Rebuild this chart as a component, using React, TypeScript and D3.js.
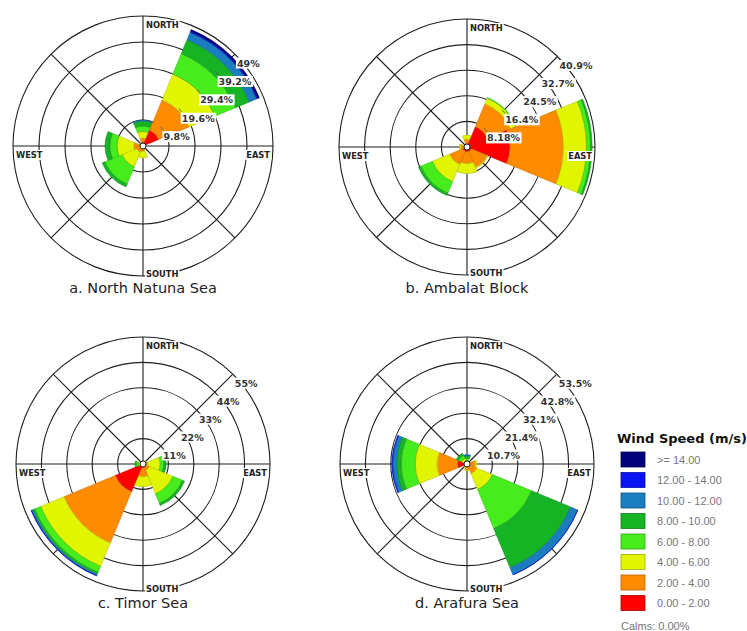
import * as d3 from "d3";
import React, { useRef, useEffect } from "react";

// speed classes, innermost band first
const speedClasses = ["0.00 - 2.00", "2.00 - 4.00", "4.00 - 6.00", "6.00 - 8.00", "8.00 - 10.00", "10.00 - 12.00", "12.00 - 14.00", ">= 14.00"];
const speedColors = ["#ff0000", "#ff8c00", "#e2f500", "#46ec1c", "#16b424", "#1a7dc0", "#0a14f0", "#00007a"];

const directions = ["N", "NE", "E", "SE", "S", "SW", "W", "NW"];

// cumulative frequency (%) per direction, one value per speed class
const natunaSea = [
  [1.5, 3, 5.5, 7.5, 9.4, 9.8, 9.8, 9.8],
  [6.4, 18.8, 29.4, 37.7, 43.4, 46.4, 46.8, 47.5],
  [0.3, 0.6, 0.8, 0.8, 0.8, 0.8, 0.8, 0.8],
  [0.3, 0.5, 0.6, 0.6, 0.6, 0.6, 0.6, 0.6],
  [0.5, 2, 4.5, 4.5, 4.5, 4.5, 4.5, 4.5],
  [0.8, 2.5, 8.5, 15.6, 16.7, 16.7, 16.7, 16.7],
  [0.8, 3.5, 9.8, 12.5, 14.3, 14.3, 14.3, 14.3],
  [0.3, 0.8, 1.2, 1.4, 1.4, 1.4, 1.4, 1.4],
];
const ambalatBlock = [
  [1, 2.5, 3.8, 3.8, 3.8, 3.8, 3.8, 3.8],
  [7, 15, 16.9, 17.1, 17.1, 17.1, 17.1, 17.1],
  [13.7, 30.8, 38.2, 39.5, 40, 40, 40, 40],
  [1.5, 7, 7.3, 7.3, 7.3, 7.3, 7.3, 7.3],
  [1.5, 5.3, 8.5, 8.5, 8.5, 8.5, 8.5, 8.5],
  [1.5, 6, 12, 16, 16.8, 16.8, 16.8, 16.8],
  [0.5, 2, 2.5, 2.5, 2.5, 2.5, 2.5, 2.5],
  [0.3, 0.6, 0.6, 0.6, 0.6, 0.6, 0.6, 0.6],
];
const timorSea = [
  [0.3, 0.6, 0.8, 0.8, 0.8, 0.8, 0.8, 0.8],
  [0.5, 1, 1.5, 1.5, 1.5, 1.5, 1.5, 1.5],
  [0.5, 2, 7.5, 9, 10, 10, 10, 10],
  [0.8, 3, 14, 18.5, 19.5, 19.5, 19.5, 19.5],
  [1.5, 5.5, 9.8, 9.8, 9.8, 9.8, 9.8, 9.8],
  [13, 37, 48, 50.8, 51.8, 52.3, 52.5, 52.5],
  [0.5, 1, 2, 3, 3.5, 3.5, 3.5, 3.5],
  [0.3, 0.5, 0.6, 0.6, 0.6, 0.6, 0.6, 0.6],
];
const arafuraSea = [
  [0.3, 0.8, 1.5, 2.5, 3.5, 4, 4, 4],
  [0.3, 0.5, 0.6, 0.6, 0.6, 0.6, 0.6, 0.6],
  [1, 3.5, 4.2, 4.2, 4.2, 4.2, 4.2, 4.2],
  [1, 4.5, 11.6, 29.5, 47.3, 50.5, 50.6, 50.6],
  [1, 2.5, 2.8, 2.8, 2.8, 2.8, 2.8, 2.8],
  [0.5, 1.5, 1.8, 1.8, 1.8, 1.8, 1.8, 1.8],
  [4, 12.6, 21.8, 27.7, 29.6, 31.3, 31.6, 31.6],
  [0.5, 1.5, 2.5, 4, 4.9, 4.9, 4.9, 4.9],
];

const natunaRings = ["9.8%", "19.6%", "29.4%", "39.2%", "49%"];
const ambalatRings = ["8.18%", "16.4%", "24.5%", "32.7%", "40.9%"];
const timorRings = ["11%", "22%", "33%", "44%", "55%"];
const arafuraRings = ["10.7%", "21.4%", "32.1%", "42.8%", "53.5%"];

const titles = ["a. North Natuna Sea", "b. Ambalat Block", "c. Timor Sea", "d. Arafura Sea"];
const maxima = [49, 40.9, 55, 53.5];

function App() {
  const ref = useRef<SVGSVGElement>(null);

  useEffect(() => {
    const svg = d3.select(ref.current);
    svg.selectAll("*").remove();

    const roses = [
      { data: natunaSea, rings: natunaRings, cx: 143, cy: 146, R: 130, ty: 293 },
      { data: ambalatBlock, rings: ambalatRings, cx: 467, cy: 147, R: 128, ty: 293 },
      { data: timorSea, rings: timorRings, cx: 143, cy: 464, R: 127, ty: 608 },
      { data: arafuraSea, rings: arafuraRings, cx: 467, cy: 464, R: 127, ty: 608 },
    ];

    const arc = d3.arc<any>();

    // white box behind a text node
    const boxed = (g: any, text: any, pad = 1) => {
      const bb = text.node().getBBox();
      g.insert("rect", () => text.node())
        .attr("x", bb.x - pad)
        .attr("y", bb.y)
        .attr("width", bb.width + pad * 2)
        .attr("height", bb.height)
        .attr("fill", "white");
    };

    roses.forEach((rose, idx) => {
      const max = maxima[idx];
      const g = svg.append("g").attr("transform", `translate(${rose.cx},${rose.cy})`);
      const r = d3.scaleLinear().domain([0, max]).range([0, rose.R]);

      // rings
      d3.range(1, 6).forEach((k) => {
        g.append("circle")
          .attr("r", r((max * k) / 5))
          .attr("fill", "none")
          .attr("stroke", "#1e1e1e")
          .attr("stroke-width", 1.1);
      });
      // spokes
      d3.range(8).forEach((i) => {
        const a = (i * Math.PI) / 4;
        g.append("line")
          .attr("x1", 0)
          .attr("y1", 0)
          .attr("x2", rose.R * Math.sin(a))
          .attr("y2", -rose.R * Math.cos(a))
          .attr("stroke", "#1e1e1e")
          .attr("stroke-width", 1.1);
      });

      // petals
      rose.data.forEach((cum, i) => {
        const a0 = ((i * 45 - 22.5) * Math.PI) / 180;
        const a1 = ((i * 45 + 22.5) * Math.PI) / 180;
        cum.forEach((v, k) => {
          const inner = k === 0 ? 0 : cum[k - 1];
          if (v <= inner) return;
          g.append("path")
            .attr("d", arc({ innerRadius: r(inner), outerRadius: r(v), startAngle: a0, endAngle: a1 }))
            .attr("fill", speedColors[k])
            .attr("stroke", d3.color(speedColors[k])!.darker(0.8).toString())
            .attr("stroke-width", 0.5);
        });
      });

      g.append("circle").attr("r", 3).attr("fill", "white").attr("stroke", "#222").attr("stroke-width", 1);

      // ring labels along the NE diagonal
      rose.rings.forEach((label, k) => {
        const rr = r((max * (k + 1)) / 5);
        const px = rr * Math.SQRT1_2;
        const py = -rr * Math.SQRT1_2;
        g.append("line")
          .attr("x1", px - 1)
          .attr("y1", py - 1)
          .attr("x2", px + 2)
          .attr("y2", py + 3)
          .attr("stroke", "#555")
          .attr("stroke-width", 0.8);
        const t = g.append("text")
          .attr("x", px + 2)
          .attr("y", py + 12.5)
          .attr("font-family", "DejaVu Sans, sans-serif")
          .attr("font-weight", "bold")
          .attr("font-size", 9.5)
          .attr("fill", "#333")
          .text(label);
        boxed(g, t);
      });

      // compass labels
      const compass = [
        { text: "NORTH", x: 3, y: -rose.R + 12, anchor: "start" },
        { text: "SOUTH", x: 3, y: rose.R + 1, anchor: "start" },
        { text: "WEST", x: -rose.R + 3, y: 12, anchor: "start" },
        { text: "EAST", x: rose.R - 3, y: 12, anchor: "end" },
      ];
      compass.forEach((c) => {
        const t = g.append("text")
          .attr("x", c.x)
          .attr("y", c.y)
          .attr("text-anchor", c.anchor)
          .attr("font-family", "DejaVu Sans, sans-serif")
          .attr("font-weight", "bold")
          .attr("font-size", 8.3)
          .attr("fill", "#222")
          .text(c.text);
        boxed(g, t, 1);
      });

      svg.append("text")
        .attr("x", rose.cx)
        .attr("y", rose.ty)
        .attr("text-anchor", "middle")
        .attr("font-family", "DejaVu Sans, sans-serif")
        .attr("font-size", 14.5)
        .attr("fill", "#222")
        .text(titles[idx]);
    });

    // legend
    const legend = svg.append("g");
    legend.append("text")
      .attr("x", 617)
      .attr("y", 443)
      .attr("font-family", "DejaVu Sans, sans-serif")
      .attr("font-weight", "bold")
      .attr("font-size", 13)
      .attr("fill", "#111")
      .text("Wind Speed (m/s)");

    const order = d3.range(speedClasses.length).reverse();
    order.forEach((k, i) => {
      const y = 452 + i * 20.5;
      legend.append("rect")
        .attr("x", 621)
        .attr("y", y)
        .attr("width", 24)
        .attr("height", 15)
        .attr("fill", speedColors[k])
        .attr("stroke", d3.color(speedColors[k])!.darker(1).toString())
        .attr("stroke-width", 0.8);
      legend.append("text")
        .attr("x", 657)
        .attr("y", y + 11.5)
        .attr("font-family", "Liberation Sans, Arial, sans-serif")
        .attr("font-size", 11)
        .attr("fill", "#777")
        .text(speedClasses[k]);
    });
    legend.append("text")
      .attr("x", 621)
      .attr("y", 630)
      .attr("font-family", "Liberation Sans, Arial, sans-serif")
      .attr("font-size", 11)
      .attr("fill", "#777")
      .text("Calms: 0.00%");
  }, []);

  return (
    <div style={{ position: "absolute", left: 0, top: 0 }}>
      <svg ref={ref} width={747} height={631} style={{ display: "block", background: "white" }}></svg>
    </div>
  );
}

export default App;
